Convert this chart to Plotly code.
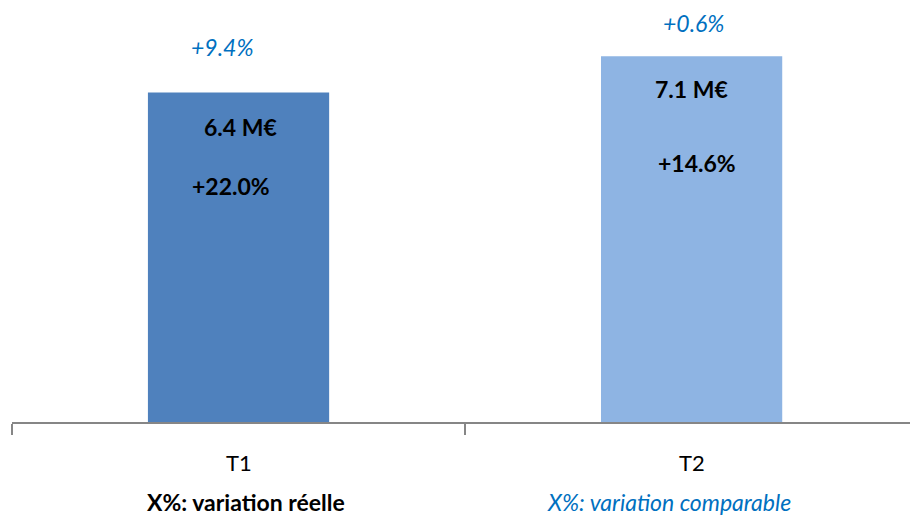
import plotly.graph_objects as go

categories = ["T1", "T2"]
values = [6.4, 7.1]
value_labels = ["6.4 M€", "7.1 M€"]
real_var = ["+22.0%", "+14.6%"]
comp_var = ["+9.4%", "+0.6%"]
bar_colors = ["#4F81BD", "#8EB4E3"]
legend_texts = ["X%: variation réelle", "X%: variation comparable"]

FONT = "Lato"
BLUE = "#0070C0"

fig = go.Figure()
fig.add_trace(go.Bar(x=[0, 1], y=values, width=0.4,
                     marker=dict(color=bar_colors, line=dict(width=0)),
                     hoverinfo="skip"))

ann = []
offs_val = [(2, -35), (0, -33)]
offs_real = [(-8, -94), (5, -107)]
offs_comp = [(-16, 45), (2, 33)]
for i in range(2):
    ann.append(dict(x=i, y=values[i], xref="x", yref="y", text=value_labels[i],
                    showarrow=False, xshift=offs_val[i][0], yshift=offs_val[i][1],
                    font=dict(family=FONT, size=23, color="#000000", weight="bold")))
    ann.append(dict(x=i, y=values[i], xref="x", yref="y", text=real_var[i],
                    showarrow=False, xshift=offs_real[i][0], yshift=offs_real[i][1],
                    font=dict(family=FONT, size=23, color="#000000", weight="bold")))
    ann.append(dict(x=i, y=values[i], xref="x", yref="y", text=comp_var[i],
                    showarrow=False, xshift=offs_comp[i][0], yshift=offs_comp[i][1],
                    font=dict(family=FONT, size=23, color=BLUE, style="italic")))
    ann.append(dict(x=i, y=0, xref="x", yref="y", text=categories[i],
                    showarrow=False, yshift=-40,
                    font=dict(family=FONT, size=22, color="#000000")))

ann.append(dict(x=0, y=0, xref="x", yref="y", text=legend_texts[0], showarrow=False,
                xshift=7, yshift=-80,
                font=dict(family=FONT, size=23, color="#000000", weight="bold")))
ann.append(dict(x=1, y=0, xref="x", yref="y", text=legend_texts[1], showarrow=False,
                xshift=-23, yshift=-80,
                font=dict(family=FONT, size=23, color=BLUE, style="italic")))

fig.update_layout(
    width=910, height=518,
    margin=dict(l=12, r=0, t=10, b=96),
    paper_bgcolor="white", plot_bgcolor="white",
    showlegend=False,
    annotations=ann,
    xaxis=dict(range=[-0.5, 1.482], showticklabels=False, showgrid=False,
               zeroline=False, showline=True, linecolor="#868686", linewidth=1.5,
               tickmode="array", tickvals=[-0.5, 0.5, 1.5], ticks="outside",
               ticklen=11, tickcolor="#868686", tickwidth=1.5),
    yaxis=dict(range=[0, 8], visible=False, fixedrange=True),
)
fig.write_html("out.html")
